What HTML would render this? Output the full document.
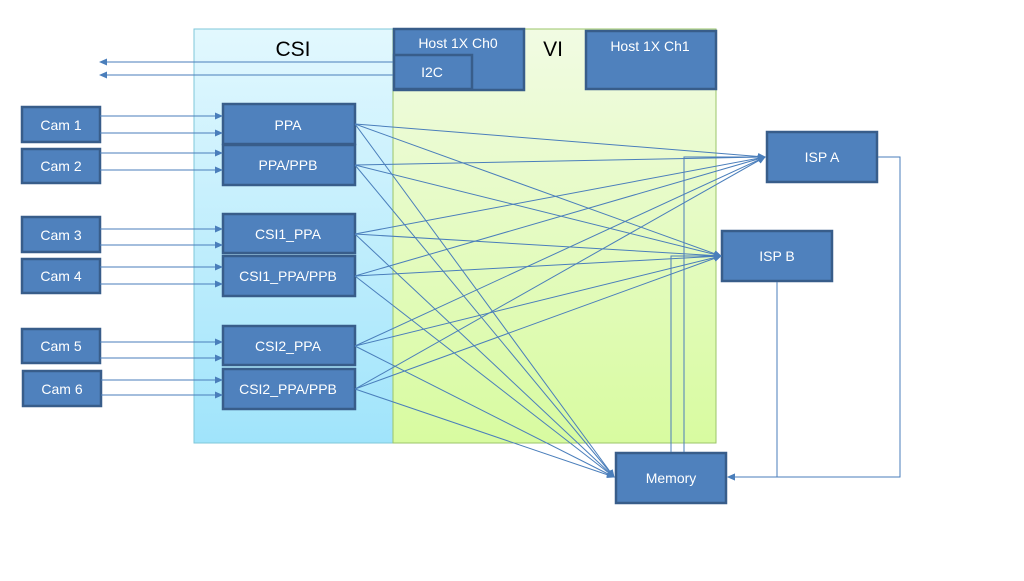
<!DOCTYPE html>
<html><head><style>
body{margin:0;background:#fff;}
svg text{font-family:"Liberation Sans",sans-serif;}
</style></head><body>
<svg width="1024" height="576" xmlns="http://www.w3.org/2000/svg">
<defs>
<linearGradient id="gc" x1="0" y1="0" x2="0" y2="1"><stop offset="0" stop-color="#e2f8fe"/><stop offset="1" stop-color="#a0e4fb"/></linearGradient>
<linearGradient id="gv" x1="0" y1="0" x2="0" y2="1"><stop offset="0" stop-color="#f1fbe3"/><stop offset="1" stop-color="#d8fba0"/></linearGradient>
<marker id="a" markerWidth="8" markerHeight="8" refX="7" refY="4" orient="auto" markerUnits="userSpaceOnUse"><path d="M0,0.5 L8,4 L0,7.5z" fill="#4a7ebb"/></marker>
</defs>
<rect x="194" y="29" width="199" height="414" fill="url(#gc)" stroke="#7fc7da" stroke-width="1"/>
<rect x="393" y="29" width="323" height="414" fill="url(#gv)" stroke="#9bc46a" stroke-width="1"/>
<text x="293" y="56" font-size="21" text-anchor="middle">CSI</text>
<text x="553" y="56" font-size="21" text-anchor="middle">VI</text>
<g fill="#4f81bd" stroke="#385d8a" stroke-width="2.5">
<rect x="394" y="29" width="130" height="61"/>
<rect x="394" y="55" width="78" height="34"/>
<rect x="586" y="31" width="130" height="58"/>
<rect x="22" y="107" width="78" height="35"/>
<rect x="22" y="149" width="78" height="34"/>
<rect x="22" y="217" width="78" height="35"/>
<rect x="22" y="259" width="78" height="34"/>
<rect x="22" y="329" width="78" height="34"/>
<rect x="23" y="371" width="78" height="35"/>
<rect x="223" y="104" width="132" height="40"/>
<rect x="223" y="145" width="132" height="40"/>
<rect x="223" y="214" width="132" height="39"/>
<rect x="223" y="256" width="132" height="40"/>
<rect x="223" y="326" width="132" height="39"/>
<rect x="223" y="369" width="132" height="40"/>
<rect x="767" y="132" width="110" height="50"/>
<rect x="722" y="231" width="110" height="50"/>
<rect x="616" y="453" width="110" height="50"/>
</g>
<g fill="#fff" font-size="14" text-anchor="middle">
<text x="458" y="48">Host 1X Ch0</text>
<text x="432" y="77">I2C</text>
<text x="650" y="51">Host 1X Ch1</text>
<text x="61" y="130">Cam 1</text><text x="61" y="171">Cam 2</text>
<text x="61" y="240">Cam 3</text><text x="61" y="281">Cam 4</text>
<text x="61" y="351">Cam 5</text><text x="62" y="394">Cam 6</text>
<text x="288" y="130">PPA</text><text x="288" y="170">PPA/PPB</text>
<text x="288" y="239">CSI1_PPA</text><text x="288" y="281">CSI1_PPA/PPB</text>
<text x="288" y="351">CSI2_PPA</text><text x="288" y="394">CSI2_PPA/PPB</text>
<text x="822" y="162">ISP A</text><text x="777" y="261">ISP B</text>
<text x="671" y="483">Memory</text>
</g>
<g stroke="#4a7ebb" stroke-width="1" fill="none" marker-end="url(#a)">
<line x1="393" y1="62" x2="100" y2="62"/>
<line x1="393" y1="75" x2="100" y2="75"/>
<line x1="100" y1="116" x2="222" y2="116"/><line x1="100" y1="133" x2="222" y2="133"/>
<line x1="100" y1="153" x2="222" y2="153"/><line x1="100" y1="170" x2="222" y2="170"/>
<line x1="100" y1="229" x2="222" y2="229"/><line x1="100" y1="245" x2="222" y2="245"/>
<line x1="100" y1="267" x2="222" y2="267"/><line x1="100" y1="284" x2="222" y2="284"/>
<line x1="100" y1="342" x2="222" y2="342"/><line x1="100" y1="358" x2="222" y2="358"/>
<line x1="101" y1="380" x2="222" y2="380"/><line x1="101" y1="395" x2="222" y2="395"/>
<line x1="355" y1="124" x2="765" y2="157"/><line x1="355" y1="124" x2="721" y2="256"/><line x1="355" y1="124" x2="614" y2="477"/>
<line x1="355" y1="165" x2="765" y2="157"/><line x1="355" y1="165" x2="721" y2="256"/><line x1="355" y1="165" x2="614" y2="477"/>
<line x1="355" y1="234" x2="765" y2="157"/><line x1="355" y1="234" x2="721" y2="256"/><line x1="355" y1="234" x2="614" y2="477"/>
<line x1="355" y1="276" x2="765" y2="157"/><line x1="355" y1="276" x2="721" y2="256"/><line x1="355" y1="276" x2="614" y2="477"/>
<line x1="355" y1="346" x2="765" y2="157"/><line x1="355" y1="346" x2="721" y2="256"/><line x1="355" y1="346" x2="614" y2="477"/>
<line x1="355" y1="389" x2="765" y2="157"/><line x1="355" y1="389" x2="721" y2="256"/><line x1="355" y1="389" x2="614" y2="477"/>
<polyline points="671,452 671,256 721,256"/>
<polyline points="684,452 684,157 765,157"/>
<polyline points="878,157 900,157 900,477 728,477"/>
<polyline points="777,282 777,477 728,477"/>
</g>
</svg>
</body></html>
